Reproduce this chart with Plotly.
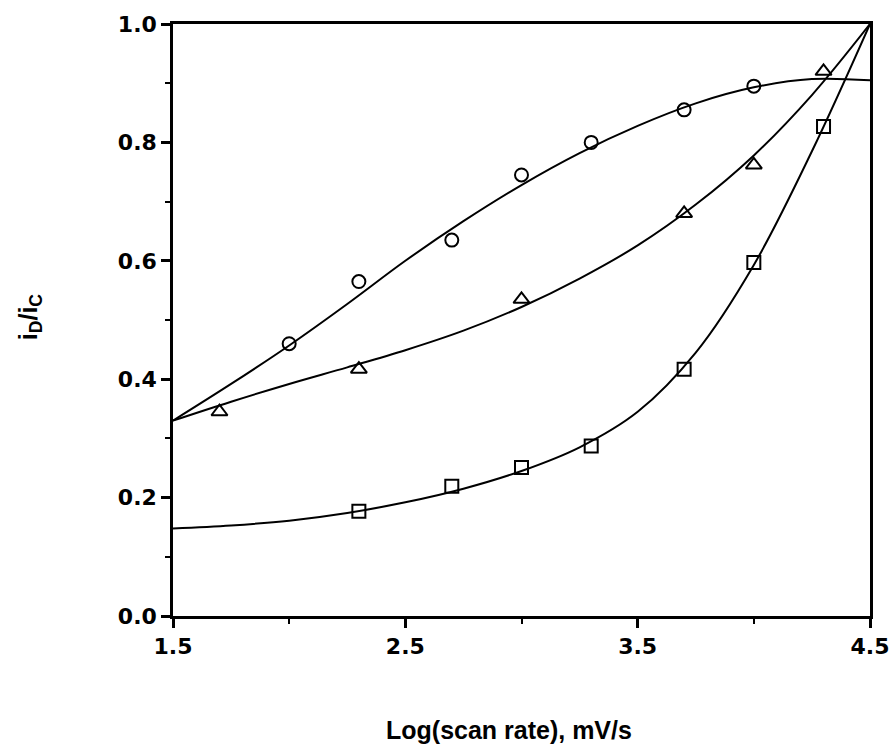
import plotly.graph_objects as go

# Measured points
circle_x = [2.0, 2.3, 2.7, 3.0, 3.3, 3.7, 4.0]
circle_y = [0.46, 0.565, 0.635, 0.745, 0.80, 0.855, 0.895]

triangle_x = [1.7, 2.3, 3.0, 3.7, 4.0, 4.3]
triangle_y = [0.345, 0.417, 0.535, 0.68, 0.762, 0.92]

square_x = [2.3, 2.7, 3.0, 3.3, 3.7, 4.0, 4.3]
square_y = [0.177, 0.219, 0.251, 0.287, 0.417, 0.597, 0.827]

# Fitted curves
curve_x = [1.5, 1.75, 2.0, 2.25, 2.5, 2.75, 3.0, 3.25, 3.5, 3.75, 4.0, 4.25, 4.5]
circle_curve = [0.33, 0.392, 0.457, 0.527, 0.60, 0.667, 0.728, 0.782, 0.828, 0.866, 0.893, 0.907, 0.905]
triangle_curve = [0.33, 0.362, 0.392, 0.42, 0.449, 0.482, 0.522, 0.57, 0.626, 0.695, 0.778, 0.88, 1.0]
square_curve = [0.148, 0.153, 0.161, 0.174, 0.192, 0.215, 0.245, 0.285, 0.345, 0.445, 0.593, 0.785, 1.0]

x_ticks = [1.5, 2.5, 3.5, 4.5]
y_ticks = [0.0, 0.2, 0.4, 0.6, 0.8, 1.0]

fig = go.Figure()
line_style = dict(color="black", width=2, shape="spline", smoothing=1)
for cy in [circle_curve, triangle_curve, square_curve]:
    fig.add_trace(go.Scatter(x=curve_x, y=cy, mode="lines", line=line_style,
                             showlegend=False, hoverinfo="skip"))

fig.add_trace(go.Scatter(x=circle_x, y=circle_y, mode="markers",
                         marker=dict(symbol="circle-open", size=13, color="black",
                                     line=dict(width=2, color="black")), showlegend=False))
fig.add_trace(go.Scatter(x=triangle_x, y=triangle_y, mode="markers",
                         marker=dict(symbol="triangle-up-open", size=14, color="black",
                                     line=dict(width=2, color="black")), showlegend=False))
fig.add_trace(go.Scatter(x=square_x, y=square_y, mode="markers",
                         marker=dict(symbol="square-open", size=13, color="black",
                                     line=dict(width=2, color="black")), showlegend=False))

tick_font = dict(family="DejaVu Sans", size=22, color="black", weight="bold")

fig.update_xaxes(range=[1.5, 4.5], tickvals=x_ticks, ticktext=[f"{v:.1f}" for v in x_ticks],
                 showline=True, linecolor="black", linewidth=2.5, mirror=True,
                 ticks="outside", ticklen=9, tickwidth=2.5, tickcolor="black",
                 minor=dict(ticks="outside", ticklen=5, tickwidth=2, tickcolor="black",
                            tickvals=[2.0, 3.0, 4.0]),
                 showgrid=False, zeroline=False, tickfont=tick_font, automargin=False)
fig.update_yaxes(range=[0, 1.0], tickvals=y_ticks, ticktext=[f"{v:.1f}" for v in y_ticks],
                 showline=True, linecolor="black", linewidth=2.5, mirror=True,
                 ticks="outside", ticklen=9, tickwidth=2.5, tickcolor="black",
                 minor=dict(ticks="outside", ticklen=5, tickwidth=2, tickcolor="black",
                            tickvals=[0.1, 0.3, 0.5, 0.7, 0.9]),
                 showgrid=False, zeroline=False, tickfont=tick_font, automargin=False)

fig.update_layout(
    width=892, height=754,
    margin=dict(l=173, r=22, t=24, b=138),
    paper_bgcolor="white", plot_bgcolor="white",
    annotations=[
        dict(text="<b>Log(scan rate), mV/s</b>", xref="paper", yref="paper",
             x=0.482, y=-0.193, xanchor="center", yanchor="middle", showarrow=False,
             font=dict(family="Liberation Sans", size=25, color="black")),
        dict(text="<b>i<sub>D</sub>/i<sub>C</sub></b>", xref="paper", yref="paper",
             x=-0.205, y=0.505, xanchor="center", yanchor="middle", showarrow=False,
             textangle=-90, font=dict(family="Liberation Sans", size=25, color="black")),
    ],
)

fig.write_html("out.html", config={"displayModeBar": False},
               post_script="document.body.style.margin='0';document.body.style.overflow='hidden';")
